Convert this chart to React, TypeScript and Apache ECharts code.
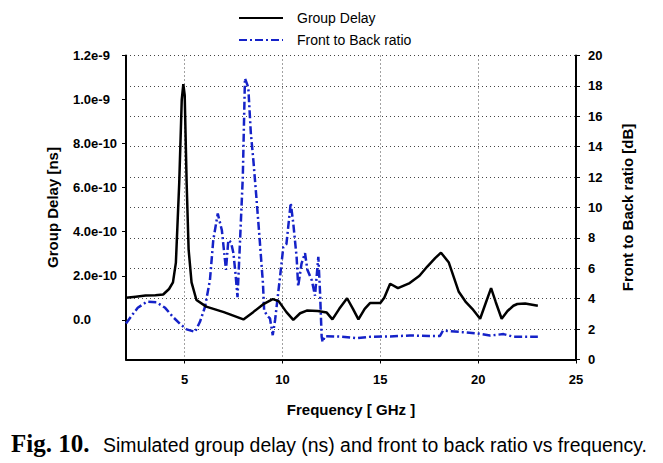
import React, { useEffect, useRef } from "react";
import * as echarts from "echarts";

// Group delay (seconds) vs frequency (GHz)
const gdFreq = [
  2.0, 2.5, 3.0, 3.5, 3.9, 4.2, 4.4, 4.55, 4.72, 4.85, 4.93, 5.0, 5.1, 5.2, 5.35, 5.6,
  6.1, 7.0, 8.0, 8.5, 9.0, 9.5, 9.8, 10.2, 10.55, 10.9, 11.24, 11.8, 12.26, 12.55, 12.9,
  13.3, 13.6, 13.88, 14.2, 14.47, 15.0, 15.2, 15.5, 15.9, 16.5, 17.0, 17.4, 17.8, 18.1,
  18.5, 19.0, 19.35, 19.7, 20.1, 20.4, 20.66, 20.9, 21.2, 21.5, 21.8, 22.0, 22.4, 23.05,
];
const gdValues = [
  1.0e-10, 1.05e-10, 1.1e-10, 1.12e-10, 1.15e-10, 1.4e-10, 1.7e-10, 2.6e-10, 6.2e-10, 1.0e-9,
  1.07e-9, 1.02e-9, 6.2e-10, 3.2e-10, 1.7e-10, 0.9e-10,
  0.6e-10, 0.35e-10, 0.02e-10, 0.35e-10, 0.7e-10, 0.94e-10, 0.85e-10, 0.35e-10, 0.0, 0.3e-10,
  0.42e-10, 0.4e-10, 0.33e-10, 0.02e-10, 0.5e-10,
  0.98e-10, 0.5e-10, 0.02e-10, 0.5e-10, 0.76e-10, 0.76e-10, 1.0e-10, 1.64e-10, 1.44e-10,
  1.67e-10, 2.0e-10, 2.42e-10, 2.8e-10, 3.05e-10,
  2.6e-10, 1.29e-10, 0.83e-10, 0.5e-10, 0.05e-10, 0.8e-10, 1.44e-10, 0.8e-10, 0.05e-10,
  0.4e-10, 0.64e-10, 0.72e-10, 0.74e-10, 0.64e-10,
];

// Front to back ratio (dB) vs frequency (GHz)
const fbFreq = [
  2.0, 2.3, 2.6, 3.06, 3.57, 4.0, 4.4, 4.8, 5.1, 5.53, 5.78, 6.04, 6.29, 6.46, 6.69, 6.9,
  7.11, 7.23, 7.37, 7.49, 7.6, 7.7, 7.83, 7.97, 8.08, 8.25, 8.38, 8.51, 8.65, 8.82, 9.0,
  9.06, 9.2, 9.36, 9.5, 9.62, 9.87, 10.04, 10.2, 10.42, 10.55, 10.72, 10.8, 10.97, 11.15,
  11.27, 11.5, 11.66, 11.83, 11.92, 12.0, 12.05, 12.17, 13.0, 13.8, 14.5, 15.5, 16.5, 17.5,
  18.05, 18.2, 19.2, 19.93, 20.6, 21.3, 21.8, 23.05,
];
const fbValues = [
  2.37, 2.9, 3.4, 3.8, 3.76, 3.4, 2.8, 2.3, 1.98, 1.82, 2.48, 3.47, 5.22, 7.85, 9.6, 8.5,
  5.9, 7.85, 7.7, 7.0, 5.6, 4.1, 7.85, 12.0, 18.5, 17.9, 14.9, 13.1, 10.9, 8.1, 5.0,
  3.25, 2.9, 2.7, 1.6, 2.6, 5.4, 7.4, 7.6, 10.3, 8.95, 6.75, 4.8, 6.3, 7.0,
  5.9, 5.2, 4.2, 6.75, 4.35, 1.5, 1.15, 1.54, 1.5, 1.4, 1.5, 1.52, 1.58, 1.55,
  1.55, 1.9, 1.8, 1.72, 1.58, 1.67, 1.5, 1.5,
];

const xTicks = [5, 10, 15, 20, 25];
const leftTickValues = [0, 2e-10, 4e-10, 6e-10, 8e-10, 1e-9, 1.2e-9];
const leftTickLabels = ["0.0", "2.0e-10", "4.0e-10", "6.0e-10", "8.0e-10", "1.0e-9", "1.2e-9"];

const seriesNames = ["Group Delay", "Front to Back ratio"];
const FONT = "'Liberation Sans', Arial, sans-serif";

export default function App() {
  const ref = useRef<HTMLDivElement>(null);

  useEffect(() => {
    if (!ref.current) return;
    const chart = echarts.init(ref.current, null, { renderer: "svg" });
    const axisLabelStyle = { fontFamily: FONT, fontSize: 13, fontWeight: "bold" as const, color: "#000" };
    const nameStyle = { fontFamily: FONT, fontSize: 15, fontWeight: "bold" as const, color: "#000" };
    const dotted = { color: "#444", width: 1, type: [1, 3] as number[] };

    chart.setOption({
      animation: false,
      backgroundColor: "#fff",
      grid: { left: 126, right: 87, top: 55.5, bottom: 103.5, containLabel: false, outerBoundsMode: "none" },
      legend: {
        orient: "vertical",
        left: 238,
        top: 11,
        padding: 0,
        itemWidth: 44,
        itemHeight: 14,
        itemGap: 8,
        itemStyle: { opacity: 0 },
        textStyle: { fontFamily: FONT, fontSize: 14, color: "#000", padding: [0, 0, 0, 9] },
        data: seriesNames,
      },
      xAxis: {
        type: "value",
        min: 2,
        max: 25,
        name: "Frequency [ GHz ]",
        nameLocation: "middle",
        nameGap: 42,
        nameTextStyle: nameStyle,
        axisLine: { onZero: false, lineStyle: { color: "#000", width: 2 } },
        axisTick: { show: true, length: 4, customValues: xTicks, lineStyle: { color: "#000" } },
        axisLabel: { ...axisLabelStyle, margin: 13, customValues: xTicks },
        splitLine: { show: true, lineStyle: dotted },
      },
      yAxis: [
        {
          type: "value",
          position: "left",
          min: -1.8e-10,
          max: 1.2e-9,
          name: "Group Delay [ns]",
          nameLocation: "middle",
          nameGap: 66,
          nameTextStyle: nameStyle,
          axisLine: { show: true, onZero: false, lineStyle: { color: "#000", width: 2 } },
          axisTick: { show: true, length: 4, customValues: leftTickValues, lineStyle: { color: "#000" } },
          axisLabel: {
            ...axisLabelStyle,
            align: "left",
            margin: 53,
            customValues: leftTickValues,
            formatter: (v: number) => leftTickLabels[Math.round(v / 2e-10)] ?? "",
          },
          splitLine: { show: false },
        },
        {
          type: "value",
          position: "right",
          min: 0,
          max: 20,
          interval: 2,
          name: "Front to Back ratio [dB]",
          nameLocation: "middle",
          nameGap: 44,
          nameTextStyle: nameStyle,
          axisLine: { show: true, onZero: false, lineStyle: { color: "#000", width: 2 } },
          axisTick: { show: true, length: 4, lineStyle: { color: "#000" } },
          axisLabel: { ...axisLabelStyle, align: "left", margin: 12 },
          splitLine: { show: true, lineStyle: dotted },
        },
      ],
      series: [
        {
          name: seriesNames[0],
          type: "line",
          yAxisIndex: 0,
          symbol: "none",
          data: gdFreq.map((f, i) => [f, gdValues[i]]),
          lineStyle: { color: "#000", width: 2.5 },
          itemStyle: { color: "#000" },
          z: 3,
        },
        {
          name: seriesNames[1],
          type: "line",
          yAxisIndex: 1,
          symbol: "none",
          data: fbFreq.map((f, i) => [f, fbValues[i]]),
          lineStyle: { color: "#1522c8", width: 2.5, type: [8, 3, 2, 3] },
          itemStyle: { color: "#1522c8" },
          z: 2,
        },
      ],
      graphic: [
        {
          type: "text",
          left: 11,
          top: 431,
          style: {
            text: "Fig. 10.",
            fontFamily: "'Liberation Serif', 'Times New Roman', serif",
            fontWeight: "bold",
            fontSize: 25,
            fill: "#000",
          },
        },
        {
          type: "text",
          left: 103,
          top: 435,
          style: {
            text: "Simulated group delay (ns) and front to back ratio vs frequency.",
            fontFamily: FONT,
            fontSize: 19.4,
            fill: "#000",
          },
        },
      ],
    });
    return () => chart.dispose();
  }, []);

  return <div ref={ref} style={{ width: 663, height: 463, position: "absolute", left: 0, top: 0 }} />;
}
